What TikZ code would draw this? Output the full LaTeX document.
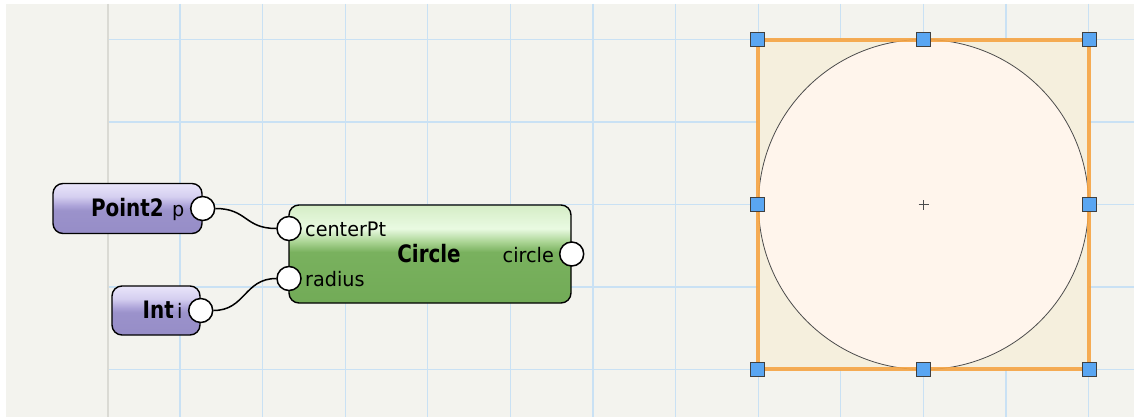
\documentclass[tikz,border=0pt]{standalone}
\usepackage{fontspec}
\newfontfamily\lblfont{DejaVu Sans}[FakeStretch=0.96]
\newfontfamily\boldfont{DejaVu Sans}[FakeStretch=0.83]
\definecolor{bgc}{HTML}{F3F3EE}
\definecolor{gridc}{HTML}{C9E1F4}
\definecolor{sepc}{HTML}{DADAD4}
\definecolor{selfill}{HTML}{F5EFDD}
\definecolor{shapefill}{HTML}{FFF5EC}
\definecolor{selorange}{HTML}{F6A443}
\definecolor{handlefill}{HTML}{5AA6F2}
\definecolor{pA}{HTML}{E9E5FA}
\definecolor{pB}{HTML}{D5CFF0}
\definecolor{pC}{HTML}{ADA4D9}
\definecolor{pD}{HTML}{9B92CB}
\definecolor{pE}{HTML}{968DC7}
\definecolor{gA}{HTML}{D5EDC6}
\definecolor{gB}{HTML}{E9FAE2}
\definecolor{gC}{HTML}{A8D391}
\definecolor{gD}{HTML}{79B15E}
\definecolor{gE}{HTML}{72AB57}
\pgfdeclareverticalshading{purpleshade}{100bp}{color(0bp)=(pE); color(25bp)=(pE); color(48bp)=(pD); color(53bp)=(pC); color(62bp)=(pB); color(75bp)=(pA); color(100bp)=(pA)}
\pgfdeclareverticalshading{greenshade}{100bp}{color(0bp)=(gE); color(25bp)=(gE); color(51bp)=(gD); color(56bp)=(gC); color(63bp)=(gB); color(75bp)=(gA); color(100bp)=(gA)}
\begin{document}
\begin{tikzpicture}[x=1pt,y=-1pt,
  wire/.style={line width=1.5pt, black},
  port/.style={circle, draw=black, line width=1.5pt, fill=white, minimum size=24pt, inner sep=0pt},
  nodebox/.style={draw=black, line width=1.4pt, rounded corners=10pt, inner sep=0pt},
  purplebox/.style={nodebox, shading=purpleshade},
  greenbox/.style={nodebox, shading=greenshade},
  title/.style={font=\boldfont\bfseries\fontsize{24}{26}\selectfont, inner sep=0pt},
  plabel/.style={font=\lblfont\fontsize{20}{23}\selectfont, inner sep=0pt},
  handle/.style={rectangle, draw=black!75, line width=0.9pt, fill=handlefill, minimum size=14pt, inner sep=0pt},
  gridline/.style={gridc, line width=1.2pt}]
\useasboundingbox (0,0) rectangle (1134,417);
\fill[white] (0,0) rectangle (1134,417);
\fill[bgc] (6,4) rectangle (1134,417);
\foreach \i in {0,...,11} \draw[gridline] ({180+82.6*\i},4) -- ({180+82.6*\i},417);
\foreach \j in {0,...,4} \draw[gridline] (109,{39.5+82.5*\j}) -- (1134,{39.5+82.5*\j});
\draw[sepc, line width=2.2pt] (108,4) -- (108,417);
% nodes
\node[purplebox, minimum width=149pt, minimum height=50pt] (point2) at (127.5,208.5) {};
\node[purplebox, minimum width=88pt, minimum height=49pt] (int) at (156,310.5) {};
\node[greenbox, minimum width=282pt, minimum height=98pt] (circ) at (430,254) {};
\node[port] (pout) at (point2.east) {};
\node[port] (iout) at (int.east) {};
\node[port] (cpt) at (289,228.5) {};
\node[port] (rad) at (289,278.5) {};
\node[port] (cout) at (circ.east) {};
\draw[wire] (pout.east) .. controls +(32,0) and +(-32,0) .. (cpt.west);
\draw[wire] (iout.east) .. controls +(32,0) and +(-32,0) .. (rad.west);
\node[title, anchor=base east] (t1) at (164,216) {Point2};
\node[plabel, anchor=base west] (t1p) at (172,216) {p};
\node[title, anchor=base east] (t2) at (174,318) {Int};
\node[plabel, anchor=base west] (t2i) at (177,318) {i};
\node[title, anchor=base] (t3) at (429,262) {Circle};
\node[plabel, anchor=base west] (t3a) at (305,236) {centerPt};
\node[plabel, anchor=base west] (t3b) at (305,286) {radius};
\node[plabel, anchor=base east] (t3c) at (554,262) {circle};
% canvas shape
\node[rectangle, fill=selfill, minimum width=331pt, minimum height=329pt, inner sep=0pt] (sel) at (923.5,204.5) {};
\node[circle, draw=black!70, line width=0.8pt, fill=shapefill, minimum size=330pt, inner sep=0pt] (shp) at (923.5,204.5) {};
\draw[selorange, line width=4.5pt, opacity=0.9] (sel.north west) rectangle (sel.south east);
\draw[black!70, line width=0.8pt] ([xshift=-5pt]shp.center) -- ([xshift=5pt]shp.center);
\draw[black!70, line width=0.8pt] ([yshift=-5pt]shp.center) -- ([yshift=5pt]shp.center);
\foreach \a/\n in {north west/h1, north/h2, north east/h3, west/h4, east/h5, south west/h6, south/h7, south east/h8}
  \node[handle] (\n) at (sel.\a) {};
\end{tikzpicture}
\end{document}
